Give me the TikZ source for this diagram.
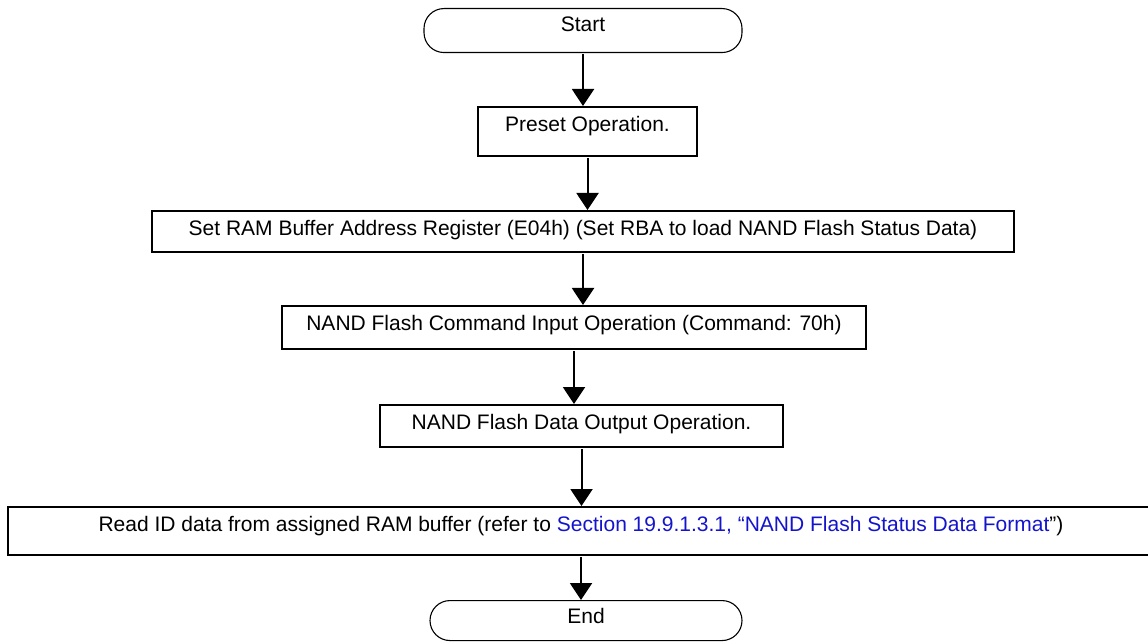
\documentclass[tikz,border=0pt]{standalone}
\usepackage{fontspec}
\setmainfont{Liberation Sans}
\usetikzlibrary{arrows.meta}
\usetikzlibrary{positioning}

\definecolor{linkblue}{RGB}{20,20,205}

\begin{document}
\begin{tikzpicture}[x=1pt,y=1pt,
    every node/.style={font=\fontsize{21}{25}\selectfont},
    box/.style={draw,line width=2.2pt,inner sep=0pt,anchor=north,text height=24pt},
    term/.style={draw,line width=1.1pt,rounded corners=20pt,inner sep=0pt,anchor=north,text height=23pt},
    flow/.style={line width=2pt,-{Triangle[width=22pt,length=17pt]},shorten <=1pt}]
\useasboundingbox (0,0) rectangle (1148,-644);

\begin{scope}
    \node[term,minimum width=318pt,text depth=21pt] (start) at (583,-8) {Start};
    \node[box,minimum width=219pt,text depth=25pt] (preset) at (587.5,-106) {Preset Operation.};
    \node[box,minimum width=862pt,text depth=17pt] (rba) at (583,-210)
        {Set RAM Buffer Address Register (E04h) (Set RBA to load NAND Flash Status Data)};
    \node[box,minimum width=584pt,text depth=19pt] (cmd) at (574,-305)
        {NAND Flash Command Input Operation (Command: 70h)};
    \node[box,minimum width=403pt,text depth=18pt] (dout) at (581.5,-404)
        {NAND Flash Data Output Operation.};
    \node[box,minimum width=1146pt,text depth=24pt] (rdid) at (581,-506)
        {Read ID data from assigned RAM buffer (refer to
         \textcolor{linkblue}{Section 19.9.1.3.1, “NAND Flash Status Data Format}”)};
    \node[term,minimum width=312pt,text depth=17pt] (end) at (586,-600) {End};
\end{scope}

\begin{scope}
    \foreach \u/\v in {start/preset, preset/rba, rba/cmd, cmd/dout, dout/rdid, rdid/end}
        \draw[flow] (\u.south) -- (\u.south |- \v.north);
\end{scope}
\end{tikzpicture}
\end{document}
